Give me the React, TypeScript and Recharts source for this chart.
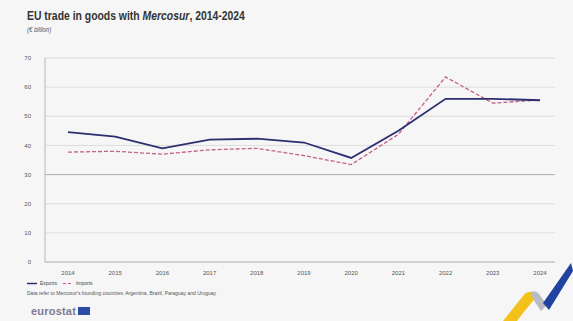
import { LineChart, Line, XAxis, YAxis, CartesianGrid, ReferenceLine } from "recharts";

const years = ["2014", "2015", "2016", "2017", "2018", "2019", "2020", "2021", "2022", "2023", "2024"];
const exportsBn = [44.6, 43, 39, 42, 42.3, 41, 35.7, 45, 56, 56, 55.5];
const importsBn = [37.7, 38, 37, 38.5, 39, 36.5, 33.4, 43.8, 63.5, 54.5, 55.6];
const yTicks = [0, 10, 20, 30, 40, 50, 60, 70];

const data = years.map((year, i) => ({ year, exports: exportsBn[i], imports: importsBn[i] }));

const font = "'Liberation Sans Narrow', 'Liberation Sans', Arial, sans-serif";
const navy = "#2c2e70";
const pink = "#c4608c";

export default function App() {
  return (
    <div
      style={{
        position: "absolute",
        top: 0,
        left: 0,
        width: 573,
        height: 321,
        background: "#f5f6f5",
        fontFamily: font,
        overflow: "hidden",
      }}
    >
      <div
        style={{
          position: "absolute",
          left: 27,
          top: 8,
          fontSize: 13,
          fontWeight: 700,
          color: "#333",
          whiteSpace: "nowrap",
          transform: "scaleX(0.8)",
          transformOrigin: "left top",
        }}
      >
        EU trade in goods with <i>Mercosur</i>, 2014-2024
      </div>
      <div
        style={{
          position: "absolute",
          left: 27,
          top: 26,
          fontSize: 7,
          fontStyle: "italic",
          color: "#555",
          transform: "scaleX(0.85)",
          transformOrigin: "left top",
        }}
      >
        (€ billion)
      </div>

      <div style={{ position: "absolute", left: 0, top: 0 }}>
        <LineChart width={573} height={321} data={data} margin={{ top: 58, right: 18, bottom: 47, left: 25 }}>
          <CartesianGrid vertical={false} stroke="#dcdcdc" />
          <XAxis
            dataKey="year"
            height={12}
            padding={{ left: 23, right: 15 }}
            tickLine={false}
            axisLine={{ stroke: "#b8b8b8" }}
            tick={{ fontSize: 6, fill: "#555", fontFamily: font }}
            tickMargin={3}
          />
          <YAxis
            width={20}
            domain={[0, 70]}
            ticks={yTicks}
            tickLine={false}
            axisLine={{ stroke: "#b8b8b8" }}
            tick={{ fontSize: 6, fill: "#555", fontFamily: font }}
            tickMargin={8}
          />
          <ReferenceLine y={30} stroke="#b4b4b4" strokeWidth={1} />
          <Line
            dataKey="imports"
            stroke={pink}
            strokeWidth={1.3}
            strokeDasharray="4 2"
            dot={false}
            isAnimationActive={false}
          />
          <Line dataKey="exports" stroke={navy} strokeWidth={1.8} dot={false} isAnimationActive={false} />
        </LineChart>
      </div>

      <div style={{ position: "absolute", left: 27, top: 280, fontSize: 5, color: "#444", display: "flex", alignItems: "center", gap: 6 }}>
        <span style={{ display: "flex", alignItems: "center", gap: 3 }}>
          <svg width={10} height={3}><line x1={0} y1={1.5} x2={10} y2={1.5} stroke={navy} strokeWidth={1.5} /></svg>
          Exports
        </span>
        <span style={{ display: "flex", alignItems: "center", gap: 3 }}>
          <svg width={10} height={3}><line x1={0} y1={1.5} x2={10} y2={1.5} stroke={pink} strokeWidth={1.2} strokeDasharray="3 2" /></svg>
          Imports
        </span>
      </div>
      <div style={{ position: "absolute", left: 27, top: 290, fontSize: 5, color: "#555" }}>
        Data refer to Mercosur's founding countries: Argentina, Brazil, Paraguay and Uruguay
      </div>

      <div style={{ position: "absolute", left: 31, top: 305, display: "flex", alignItems: "center", gap: 2 }}>
        <span style={{ fontSize: 11, fontWeight: 700, color: "#7a7c96", fontFamily: "'Liberation Sans', Arial, sans-serif", letterSpacing: 0.2 }}>
          eurostat
        </span>
        <span style={{ width: 12, height: 8, background: "#2c4aa8", display: "inline-block" }} />
      </div>

      <svg width={80} height={60} style={{ position: "absolute", left: 493, top: 261 }}>
        <path d="M10 60 L30 35 Q34 30 40 31 L44 35 L30 52 L24 60 Z" fill="#f2c21a" />
        <path d="M38 31 Q43 29 46 33 L54 44 L48 50 L40 38 Z" fill="#b9bcc4" />
        <path d="M50 42 L78 2 L80 10 L56 49 Z" fill="#2242a0" />
      </svg>
    </div>
  );
}
